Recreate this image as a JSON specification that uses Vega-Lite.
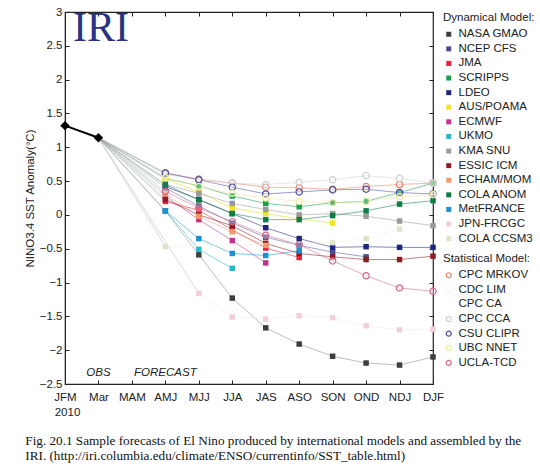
{
  "$schema": "https://vega.github.io/schema/vega-lite/v6.json",
  "description": "IRI plume of NINO3.4 SST anomaly forecasts, 2010",
  "autosize": {"type": "none"},
  "width": 368,
  "height": 372,
  "padding": {"left": 65, "top": 12, "right": 107, "bottom": 91},
  "config": {
    "font": "Liberation Sans",
    "view": {"stroke": "#222", "strokeWidth": 1.2},
    "axis": {"labelFont": "Liberation Sans", "labelFontSize": 11.5, "labelColor": "#222", "domainColor": "#222", "tickColor": "#222", "grid": false},
    "legend": {"labelFont": "Liberation Sans", "labelFontSize": 11.5, "labelColor": "#222", "titleFont": "Liberation Sans", "titleFontSize": 11.5, "titleFontWeight": "normal", "titleColor": "#222", "rowPadding": 1.6, "symbolSize": 25, "labelOffset": 4, "padding": 0, "offset": 8}
  },
  "title": {
    "text": ["Fig. 20.1  Sample forecasts of El Nino produced by international models and assembled by the", "IRI. (http://iri.columbia.edu/climate/ENSO/currentinfo/SST_table.html)"],
    "orient": "bottom",
    "anchor": "start",
    "font": "Liberation Serif",
    "fontSize": 13.2,
    "fontWeight": "normal",
    "lineHeight": 15,
    "color": "#111",
    "dx": 1,
    "offset": 17
  },
  "datasets": {
    "obs": [
      {"t": "JFM", "v": 1.32},
      {"t": "Mar", "v": 1.14}
    ],
    "dyn": [
      {"m": "NASA GMAO", "t": "AMJ", "v": 0.06}, {"m": "NASA GMAO", "t": "MJJ", "v": -0.59}, {"m": "NASA GMAO", "t": "JJA", "v": -1.23}, {"m": "NASA GMAO", "t": "JAS", "v": -1.67}, {"m": "NASA GMAO", "t": "ASO", "v": -1.91}, {"m": "NASA GMAO", "t": "SON", "v": -2.09}, {"m": "NASA GMAO", "t": "OND", "v": -2.19}, {"m": "NASA GMAO", "t": "NDJ", "v": -2.22}, {"m": "NASA GMAO", "t": "DJF", "v": -2.10},
      {"m": "NCEP CFS", "t": "AMJ", "v": 0.40}, {"m": "NCEP CFS", "t": "MJJ", "v": 0.13}, {"m": "NCEP CFS", "t": "JJA", "v": -0.12}, {"m": "NCEP CFS", "t": "JAS", "v": -0.33}, {"m": "NCEP CFS", "t": "ASO", "v": -0.45}, {"m": "NCEP CFS", "t": "SON", "v": -0.55}, {"m": "NCEP CFS", "t": "OND", "v": -0.62},
      {"m": "JMA", "t": "AMJ", "v": 0.20}, {"m": "JMA", "t": "MJJ", "v": 0.07}, {"m": "JMA", "t": "JJA", "v": -0.22}, {"m": "JMA", "t": "JAS", "v": -0.49}, {"m": "JMA", "t": "ASO", "v": -0.63},
      {"m": "SCRIPPS", "t": "AMJ", "v": 0.54}, {"m": "SCRIPPS", "t": "MJJ", "v": 0.43}, {"m": "SCRIPPS", "t": "JJA", "v": 0.28}, {"m": "SCRIPPS", "t": "JAS", "v": 0.17}, {"m": "SCRIPPS", "t": "ASO", "v": 0.12}, {"m": "SCRIPPS", "t": "SON", "v": 0.18}, {"m": "SCRIPPS", "t": "OND", "v": 0.20}, {"m": "SCRIPPS", "t": "NDJ", "v": 0.33}, {"m": "SCRIPPS", "t": "DJF", "v": 0.47},
      {"m": "LDEO", "t": "AMJ", "v": 0.42}, {"m": "LDEO", "t": "MJJ", "v": 0.23}, {"m": "LDEO", "t": "JJA", "v": 0.02}, {"m": "LDEO", "t": "JAS", "v": -0.19}, {"m": "LDEO", "t": "ASO", "v": -0.35}, {"m": "LDEO", "t": "SON", "v": -0.48}, {"m": "LDEO", "t": "OND", "v": -0.47}, {"m": "LDEO", "t": "NDJ", "v": -0.48}, {"m": "LDEO", "t": "DJF", "v": -0.48},
      {"m": "AUS/POAMA", "t": "AMJ", "v": 0.53}, {"m": "AUS/POAMA", "t": "MJJ", "v": 0.34}, {"m": "AUS/POAMA", "t": "JJA", "v": 0.10}, {"m": "AUS/POAMA", "t": "JAS", "v": 0.02}, {"m": "AUS/POAMA", "t": "ASO", "v": -0.06}, {"m": "AUS/POAMA", "t": "SON", "v": -0.12},
      {"m": "ECMWF", "t": "AMJ", "v": 0.28}, {"m": "ECMWF", "t": "MJJ", "v": -0.07}, {"m": "ECMWF", "t": "JJA", "v": -0.38}, {"m": "ECMWF", "t": "JAS", "v": -0.71},
      {"m": "UKMO", "t": "AMJ", "v": 0.06}, {"m": "UKMO", "t": "MJJ", "v": -0.51}, {"m": "UKMO", "t": "JJA", "v": -0.79},
      {"m": "KMA SNU", "t": "AMJ", "v": 0.45}, {"m": "KMA SNU", "t": "MJJ", "v": 0.32}, {"m": "KMA SNU", "t": "JJA", "v": 0.17}, {"m": "KMA SNU", "t": "JAS", "v": 0.08}, {"m": "KMA SNU", "t": "ASO", "v": 0.0}, {"m": "KMA SNU", "t": "SON", "v": 0.02}, {"m": "KMA SNU", "t": "OND", "v": -0.02}, {"m": "KMA SNU", "t": "NDJ", "v": -0.09}, {"m": "KMA SNU", "t": "DJF", "v": -0.16},
      {"m": "ESSIC ICM", "t": "AMJ", "v": 0.23}, {"m": "ESSIC ICM", "t": "MJJ", "v": 0.0}, {"m": "ESSIC ICM", "t": "JJA", "v": -0.16}, {"m": "ESSIC ICM", "t": "JAS", "v": -0.42}, {"m": "ESSIC ICM", "t": "ASO", "v": -0.57}, {"m": "ESSIC ICM", "t": "SON", "v": -0.62}, {"m": "ESSIC ICM", "t": "OND", "v": -0.66}, {"m": "ESSIC ICM", "t": "NDJ", "v": -0.66}, {"m": "ESSIC ICM", "t": "DJF", "v": -0.61},
      {"m": "ECHAM/MOM", "t": "AMJ", "v": 0.31}, {"m": "ECHAM/MOM", "t": "MJJ", "v": -0.02}, {"m": "ECHAM/MOM", "t": "JJA", "v": -0.25}, {"m": "ECHAM/MOM", "t": "JAS", "v": -0.45},
      {"m": "COLA  ANOM", "t": "AMJ", "v": 0.45}, {"m": "COLA  ANOM", "t": "MJJ", "v": 0.22}, {"m": "COLA  ANOM", "t": "JJA", "v": 0.02}, {"m": "COLA  ANOM", "t": "JAS", "v": -0.07}, {"m": "COLA  ANOM", "t": "ASO", "v": -0.07}, {"m": "COLA  ANOM", "t": "SON", "v": -0.01}, {"m": "COLA  ANOM", "t": "OND", "v": 0.06}, {"m": "COLA  ANOM", "t": "NDJ", "v": 0.16}, {"m": "COLA  ANOM", "t": "DJF", "v": 0.21},
      {"m": "MetFRANCE", "t": "AMJ", "v": 0.06}, {"m": "MetFRANCE", "t": "MJJ", "v": -0.35}, {"m": "MetFRANCE", "t": "JJA", "v": -0.57}, {"m": "MetFRANCE", "t": "JAS", "v": -0.60}, {"m": "MetFRANCE", "t": "ASO", "v": -0.53},
      {"m": "JPN-FRCGC", "t": "MJJ", "v": -1.16}, {"m": "JPN-FRCGC", "t": "JJA", "v": -1.51}, {"m": "JPN-FRCGC", "t": "JAS", "v": -1.54}, {"m": "JPN-FRCGC", "t": "ASO", "v": -1.49}, {"m": "JPN-FRCGC", "t": "SON", "v": -1.52}, {"m": "JPN-FRCGC", "t": "OND", "v": -1.64}, {"m": "JPN-FRCGC", "t": "NDJ", "v": -1.70}, {"m": "JPN-FRCGC", "t": "DJF", "v": -1.69},
      {"m": "COLA  CCSM3", "t": "AMJ", "v": -0.47}, {"m": "COLA  CCSM3", "t": "SON", "v": -0.41}, {"m": "COLA  CCSM3", "t": "OND", "v": -0.35}, {"m": "COLA  CCSM3", "t": "NDJ", "v": -0.21}
    ],
    "stat": [
      {"m": "CPC MRKOV", "t": "AMJ", "v": 0.62}, {"m": "CPC MRKOV", "t": "MJJ", "v": 0.53}, {"m": "CPC MRKOV", "t": "JJA", "v": 0.47}, {"m": "CPC MRKOV", "t": "JAS", "v": 0.41}, {"m": "CPC MRKOV", "t": "ASO", "v": 0.40}, {"m": "CPC MRKOV", "t": "SON", "v": 0.38}, {"m": "CPC MRKOV", "t": "OND", "v": 0.42}, {"m": "CPC MRKOV", "t": "NDJ", "v": 0.45}, {"m": "CPC MRKOV", "t": "DJF", "v": 0.47},
      {"m": "CPC CCA", "t": "AMJ", "v": 0.60}, {"m": "CPC CCA", "t": "MJJ", "v": 0.52}, {"m": "CPC CCA", "t": "JJA", "v": 0.47}, {"m": "CPC CCA", "t": "JAS", "v": 0.45}, {"m": "CPC CCA", "t": "ASO", "v": 0.48}, {"m": "CPC CCA", "t": "SON", "v": 0.52}, {"m": "CPC CCA", "t": "OND", "v": 0.58}, {"m": "CPC CCA", "t": "NDJ", "v": 0.54}, {"m": "CPC CCA", "t": "DJF", "v": 0.47},
      {"m": "CSU CLIPR", "t": "AMJ", "v": 0.62}, {"m": "CSU CLIPR", "t": "MJJ", "v": 0.52}, {"m": "CSU CLIPR", "t": "JJA", "v": 0.41}, {"m": "CSU CLIPR", "t": "JAS", "v": 0.31}, {"m": "CSU CLIPR", "t": "ASO", "v": 0.34}, {"m": "CSU CLIPR", "t": "SON", "v": 0.37}, {"m": "CSU CLIPR", "t": "OND", "v": 0.38}, {"m": "CSU CLIPR", "t": "NDJ", "v": 0.33}, {"m": "CSU CLIPR", "t": "DJF", "v": 0.31},
      {"m": "UBC NNET", "t": "AMJ", "v": 0.55}, {"m": "UBC NNET", "t": "MJJ", "v": 0.42}, {"m": "UBC NNET", "t": "JJA", "v": 0.32}, {"m": "UBC NNET", "t": "JAS", "v": 0.25}, {"m": "UBC NNET", "t": "ASO", "v": 0.20}, {"m": "UBC NNET", "t": "SON", "v": 0.18}, {"m": "UBC NNET", "t": "OND", "v": 0.20}, {"m": "UBC NNET", "t": "NDJ", "v": 0.27}, {"m": "UBC NNET", "t": "DJF", "v": 0.30},
      {"m": "UCLA-TCD", "t": "AMJ", "v": 0.35}, {"m": "UCLA-TCD", "t": "MJJ", "v": 0.10}, {"m": "UCLA-TCD", "t": "JJA", "v": -0.10}, {"m": "UCLA-TCD", "t": "JAS", "v": -0.30}, {"m": "UCLA-TCD", "t": "ASO", "v": -0.44}, {"m": "UCLA-TCD", "t": "SON", "v": -0.68}, {"m": "UCLA-TCD", "t": "OND", "v": -0.90}, {"m": "UCLA-TCD", "t": "NDJ", "v": -1.08}, {"m": "UCLA-TCD", "t": "DJF", "v": -1.13}
    ],
    "fan": [
      {"m": "NASA GMAO", "t": "Mar", "v": 1.14}, {"m": "NASA GMAO", "t": "AMJ", "v": 0.06},
      {"m": "NCEP CFS", "t": "Mar", "v": 1.14}, {"m": "NCEP CFS", "t": "AMJ", "v": 0.40},
      {"m": "JMA", "t": "Mar", "v": 1.14}, {"m": "JMA", "t": "AMJ", "v": 0.20},
      {"m": "SCRIPPS", "t": "Mar", "v": 1.14}, {"m": "SCRIPPS", "t": "AMJ", "v": 0.54},
      {"m": "LDEO", "t": "Mar", "v": 1.14}, {"m": "LDEO", "t": "AMJ", "v": 0.42},
      {"m": "AUS/POAMA", "t": "Mar", "v": 1.14}, {"m": "AUS/POAMA", "t": "AMJ", "v": 0.53},
      {"m": "ECMWF", "t": "Mar", "v": 1.14}, {"m": "ECMWF", "t": "AMJ", "v": 0.28},
      {"m": "UKMO", "t": "Mar", "v": 1.14}, {"m": "UKMO", "t": "AMJ", "v": 0.06},
      {"m": "KMA SNU", "t": "Mar", "v": 1.14}, {"m": "KMA SNU", "t": "AMJ", "v": 0.45},
      {"m": "ESSIC ICM", "t": "Mar", "v": 1.14}, {"m": "ESSIC ICM", "t": "AMJ", "v": 0.23},
      {"m": "ECHAM/MOM", "t": "Mar", "v": 1.14}, {"m": "ECHAM/MOM", "t": "AMJ", "v": 0.31},
      {"m": "COLA  ANOM", "t": "Mar", "v": 1.14}, {"m": "COLA  ANOM", "t": "AMJ", "v": 0.45},
      {"m": "MetFRANCE", "t": "Mar", "v": 1.14}, {"m": "MetFRANCE", "t": "AMJ", "v": 0.06},
      {"m": "JPN-FRCGC", "t": "Mar", "v": 1.14}, {"m": "JPN-FRCGC", "t": "MJJ", "v": -1.16},
      {"m": "COLA  CCSM3", "t": "Mar", "v": 1.14}, {"m": "COLA  CCSM3", "t": "AMJ", "v": -0.47},
      {"m": "CPC MRKOV", "t": "Mar", "v": 1.14}, {"m": "CPC MRKOV", "t": "AMJ", "v": 0.62},
      {"m": "CPC CCA", "t": "Mar", "v": 1.14}, {"m": "CPC CCA", "t": "AMJ", "v": 0.60},
      {"m": "CSU CLIPR", "t": "Mar", "v": 1.14}, {"m": "CSU CLIPR", "t": "AMJ", "v": 0.62},
      {"m": "UBC NNET", "t": "Mar", "v": 1.14}, {"m": "UBC NNET", "t": "AMJ", "v": 0.55},
      {"m": "UCLA-TCD", "t": "Mar", "v": 1.14}, {"m": "UCLA-TCD", "t": "AMJ", "v": 0.35}
    ],
    "notes": [
      {"label": "OBS", "t": "Mar", "v": -2.33},
      {"label": "FORECAST", "t": "AMJ", "v": -2.33}
    ],
    "logo": [
      {"label": "IRI", "t": "JFM", "v": 2.77}
    ]
  },
  "encoding": {
    "x": {
      "field": "t", "type": "ordinal",
      "scale": {"type": "point", "padding": 0, "domain": ["JFM", "Mar", "MAM", "AMJ", "MJJ", "JJA", "JAS", "ASO", "SON", "OND", "NDJ", "DJF"]},
      "axis": null
    },
    "y": {
      "field": "v", "type": "quantitative",
      "scale": {"domain": [-2.5, 3], "nice": false, "zero": false},
      "axis": null
    }
  },
  "resolve": {"axis": {"x": "independent", "y": "independent"}},
  "layer": [
    {
      "data": {"name": "fan"},
      "mark": {"type": "line", "stroke": "#9aa6a6", "strokeWidth": 0.7, "opacity": 0.6},
      "encoding": {"detail": {"field": "m"}}
    },
    {
      "data": {"name": "dyn"},
      "mark": {"type": "line", "strokeWidth": 1, "opacity": 0.55},
      "encoding": {
        "color": {"field": "m", "type": "nominal", "legend": null,
          "scale": {"domain": ["NASA GMAO", "NCEP CFS", "JMA", "SCRIPPS", "LDEO", "AUS/POAMA", "ECMWF", "UKMO", "KMA SNU", "ESSIC ICM", "ECHAM/MOM", "COLA  ANOM", "MetFRANCE", "JPN-FRCGC", "COLA  CCSM3", "CPC MRKOV", "CDC LIM", "CPC CA", "CPC CCA", "CSU CLIPR", "UBC NNET", "UCLA-TCD"],
            "range": ["#8a8a8a", "#5a5a98", "#e8213c", "#16a04a", "#1c2580", "#e8d820", "#c3328e", "#28b8cc", "#9a9a9a", "#8e1b22", "#f29a6a", "#0e7d45", "#1e8fd0", "#f8e4ea", "#eef0e2", "#e8806a", "#f0f0f0", "#f6f6f6", "#cfcfcf", "#4a4aa0", "#eeea9a", "#d2688a"]}}
      }
    },
    {
      "data": {"name": "stat"},
      "mark": {"type": "line", "strokeWidth": 1, "opacity": 0.55},
      "encoding": {"color": {"field": "m", "type": "nominal", "legend": null}}
    },
    {
      "data": {"name": "dyn"},
      "mark": {"type": "point", "shape": "square", "filled": true, "size": 30, "opacity": 1},
      "encoding": {
        "fill": {"field": "m", "type": "nominal",
          "scale": {"domain": ["NASA GMAO", "NCEP CFS", "JMA", "SCRIPPS", "LDEO", "AUS/POAMA", "ECMWF", "UKMO", "KMA SNU", "ESSIC ICM", "ECHAM/MOM", "COLA  ANOM", "MetFRANCE", "JPN-FRCGC", "COLA  CCSM3"],
            "range": ["#3d3d3d", "#4e4e8e", "#e8213c", "#16a04a", "#1c2580", "#f2e227", "#c3328e", "#28b8cc", "#9a9a9a", "#8e1b22", "#f29a6a", "#0e7d45", "#1e8fd0", "#f2cfd8", "#dfe4c8"]},
          "legend": {"title": "Dynamical Model:", "symbolType": "square", "orient": "right"}}
      }
    },
    {
      "data": {"name": "stat"},
      "mark": {"type": "point", "shape": "circle", "filled": false, "size": 40, "strokeWidth": 1.2, "fill": "white", "fillOpacity": 0.3, "opacity": 1},
      "encoding": {
        "stroke": {"field": "m", "type": "nominal",
          "scale": {"domain": ["CPC MRKOV", "CDC LIM", "CPC CA", "CPC CCA", "CSU CLIPR", "UBC NNET", "UCLA-TCD"],
            "range": ["#e8806a", "#f4f4f4", "#ffffff", "#cfcfcf", "#4a4aa0", "#eeea9a", "#d2688a"]},
          "legend": {"title": "Statistical Model:", "symbolType": "circle", "symbolFillColor": "white", "symbolStrokeWidth": 1.2, "orient": "right"}}
      }
    },
    {
      "mark": {"type": "rule", "stroke": "#111", "strokeWidth": 1.6},
      "encoding": {"y": {"datum": 0, "axis": null}, "x": null}
    },
    {
      "data": {"name": "obs"},
      "mark": {"type": "line", "stroke": "#000", "strokeWidth": 2},
      "encoding": {}
    },
    {
      "data": {"name": "obs"},
      "mark": {"type": "point", "shape": "diamond", "filled": true, "fill": "#000", "size": 90, "opacity": 1},
      "encoding": {}
    },
    {
      "data": {"name": "notes"},
      "mark": {"type": "text", "fontStyle": "italic", "fontSize": 11.5, "font": "Liberation Sans", "color": "#222", "baseline": "middle"},
      "encoding": {
        "x": {"field": "t", "type": "ordinal",
          "axis": {"orient": "bottom", "title": "2010", "titleAnchor": "start", "titleAlign": "center", "titleX": 2, "titleFontWeight": "normal", "titleFontSize": 11.5, "titleColor": "#222", "titleFont": "Liberation Sans", "titlePadding": 4, "labelAngle": 0, "labelPadding": 11, "tickSize": -4, "domain": true}},
        "y": {"field": "v", "type": "quantitative",
          "axis": {"orient": "left", "title": "NINO3.4 SST Anomaly(°C)", "titleFontWeight": "normal", "titleFontSize": 11.5, "titleColor": "#222", "titleFont": "Liberation Sans", "titlePadding": 4, "values": [-2.5, -2, -1.5, -1, -0.5, 0, 0.5, 1, 1.5, 2, 2.5, 3], "format": "~g", "tickSize": -4, "labelPadding": 7}},
        "text": {"field": "label"}
      }
    },
    {
      "data": {"name": "logo"},
      "mark": {"type": "text", "font": "Liberation Serif", "fontSize": 42, "color": "#283482", "align": "left", "baseline": "middle", "dx": 8},
      "encoding": {
        "x": {"field": "t", "type": "ordinal",
          "axis": {"orient": "top", "title": null, "labels": false, "tickSize": -4, "domain": false}},
        "y": {"field": "v", "type": "quantitative",
          "axis": {"orient": "right", "title": null, "labels": false, "tickSize": -4, "domain": false, "values": [-2.5, -2, -1.5, -1, -0.5, 0, 0.5, 1, 1.5, 2, 2.5, 3]}},
        "text": {"field": "label"}
      }
    }
  ]
}
